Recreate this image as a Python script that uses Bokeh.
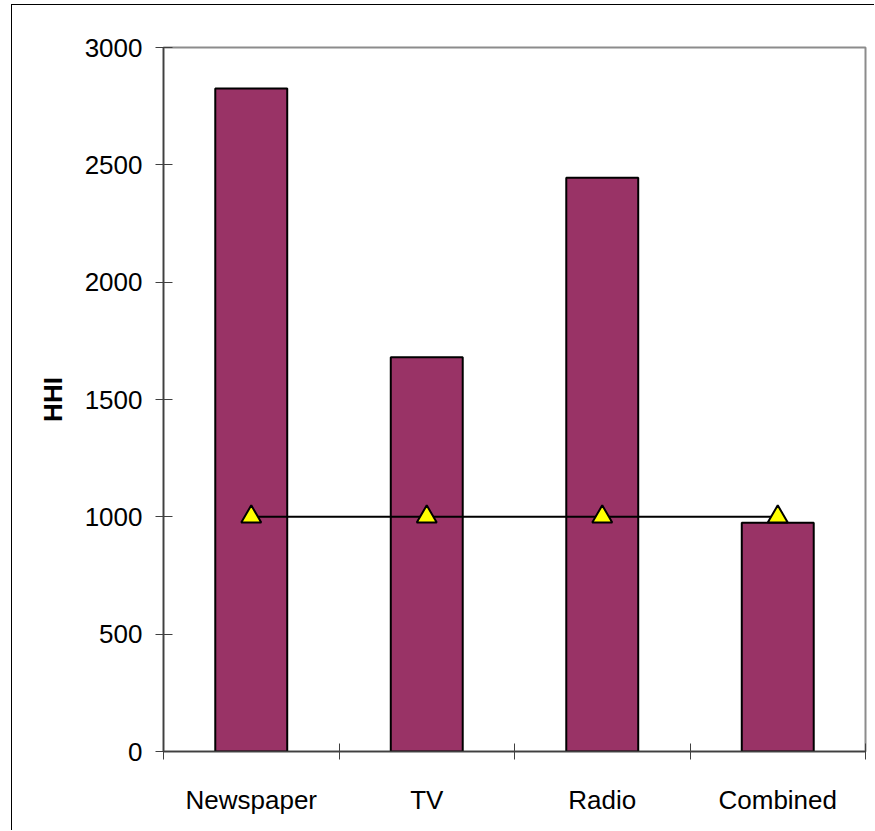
from bokeh.plotting import figure
from bokeh.models import Range1d, FixedTicker, ColumnDataSource, InlineStyleSheet
from bokeh.embed import file_html
from bokeh.resources import INLINE

# Concentration (HHI) by market segment
categories = ["Newspaper", "TV", "Radio", "Combined"]
hhi = [2825, 1680, 2445, 975]
threshold = [1000, 1000, 1000, 1000]
y_ticks = [0, 500, 1000, 1500, 2000, 2500, 3000]

FONT = "Liberation Sans"

# each category occupies one unit slot; marks sit at the slot centre
centers = [i + 0.5 for i in range(len(categories))]
bounds = list(range(len(categories) + 1))

src = ColumnDataSource(dict(x=centers, hhi=hhi, thr=threshold, cat=categories))

p = figure(
    width=863, height=826,
    x_range=Range1d(0, len(categories)), y_range=Range1d(0, 3000),
    output_backend="svg", toolbar_location=None,
    min_border_left=151, min_border_right=10,
    min_border_top=42, min_border_bottom=80,
)
p.stylesheets = [InlineStyleSheet(css=":host { border-left: 1px solid black; border-top: 1px solid black; margin-left: 11px; margin-top: 4px; }")]

p.xgrid.visible = False
p.ygrid.visible = False
p.outline_line_color = "#8c8c8c"
p.outline_line_width = 2
p.background_fill_color = "white"
p.border_fill_color = "white"

p.vbar(x="x", top="hhi", width=0.41, source=src,
       fill_color="#993366", line_color="black", line_width=2)
p.line(x="x", y="thr", source=src, line_color="black", line_width=2)
p.scatter(x="x", y="thr", source=src, marker="triangle", size=20,
          fill_color="#ffff00", line_color="black", line_width=2)

# x axis: labels at slot centres, tick marks at slot boundaries
xa = p.xaxis[0]
xa.ticker = FixedTicker(ticks=centers, minor_ticks=bounds)
xa.major_label_overrides = {c: name for c, name in zip(centers, categories)}
xa.major_tick_in = 0
xa.major_tick_out = 0
xa.minor_tick_in = 8
xa.minor_tick_out = 8
xa.minor_tick_line_color = "#404040"
xa.axis_line_color = "#404040"
xa.axis_line_width = 1.5
xa.major_label_standoff = 25
xa.major_label_text_font = FONT
xa.major_label_text_font_size = "26px"
xa.major_label_text_color = "black"

ya = p.yaxis[0]
ya.ticker = FixedTicker(ticks=y_ticks)
ya.major_tick_in = 9
ya.major_tick_out = 8
ya.major_tick_line_color = "#404040"
ya.minor_tick_line_color = None
ya.axis_line_color = "#404040"
ya.axis_line_width = 1.5
ya.major_label_standoff = 13
ya.major_label_text_font = FONT
ya.major_label_text_font_size = "26px"
ya.major_label_text_color = "black"
ya.axis_label = "HHI"
ya.axis_label_text_font = FONT
ya.axis_label_text_font_size = "26px"
ya.axis_label_text_font_style = "bold"
ya.axis_label_text_color = "black"
ya.axis_label_standoff = 14

open("out.html", "w").write(file_html(p, INLINE))
